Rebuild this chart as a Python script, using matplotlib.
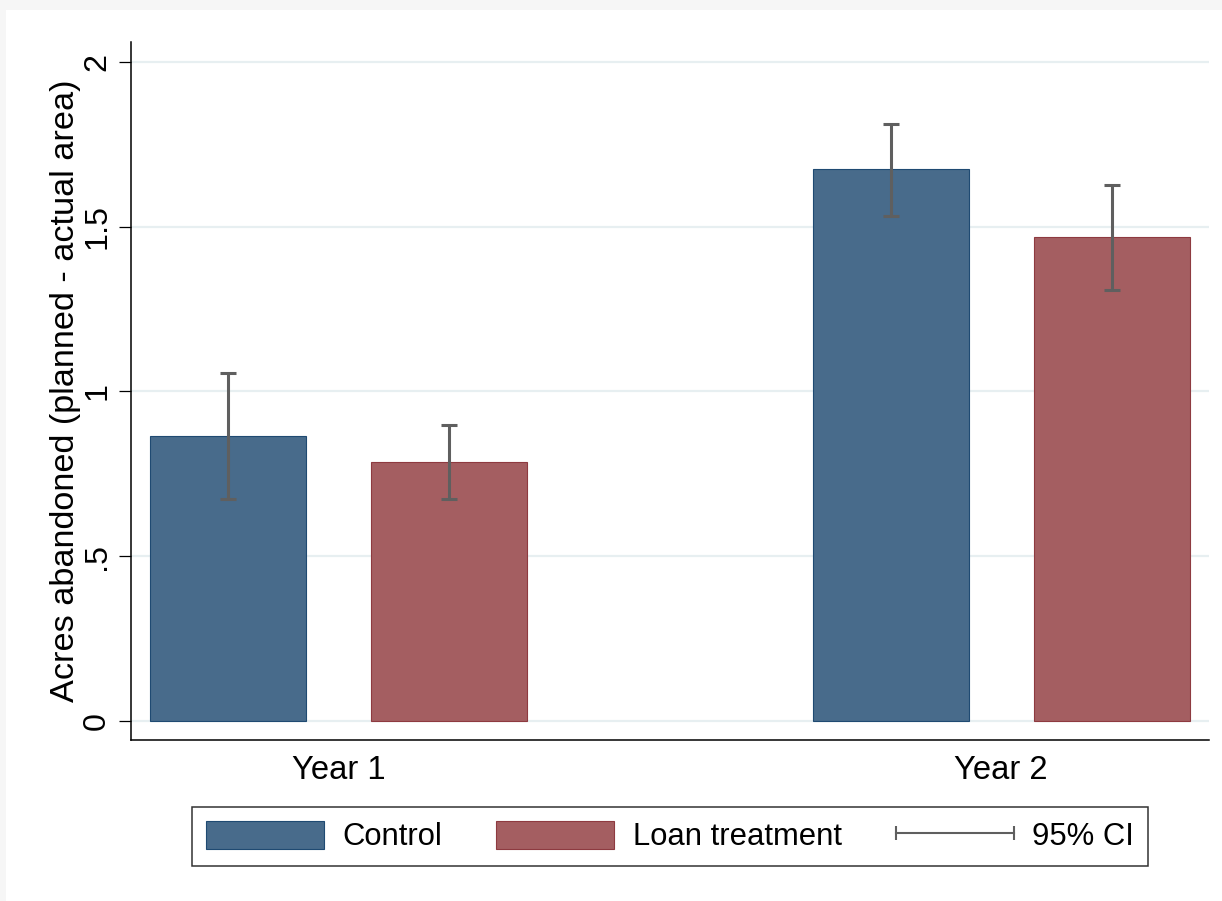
import numpy as np
import matplotlib.pyplot as plt
from matplotlib.patches import Patch, Rectangle
from matplotlib.lines import Line2D
from matplotlib.legend_handler import HandlerLine2D

# -------------------------------
# DATA
# -------------------------------
years = ["Year 1", "Year 2"]
groups = ["Control", "Loan treatment"]

control_mean = [0.865, 1.675]
control_lo   = [0.674, 1.534]
control_hi   = [1.056, 1.812]

loan_mean = [0.786, 1.469]
loan_lo   = [0.674, 1.308]
loan_hi   = [0.898, 1.627]

yticks = [0, 0.5, 1, 1.5, 2]
ytick_labels = ["0", ".5", "1", "1.5", "2"]

# -------------------------------
# STYLE
# -------------------------------
plt.rcParams['font.family'] = ['Liberation Sans', 'DejaVu Sans']

NAVY_FILL, NAVY_EDGE = "#486b8b", "#1f4a72"
MAROON_FILL, MAROON_EDGE = "#a45e61", "#8e3a40"
CI_COLOR = "#5f5f5f"
GRID_COLOR = "#e7eff1"

W, H = 1222, 901
fig = plt.figure(figsize=(W / 100, H / 100), dpi=100, facecolor="white")

# light frame strip along top and left edge
fig.patches.append(Rectangle((0, 1 - 10 / H), 1, 10 / H, transform=fig.transFigure,
                             facecolor="#f6f6f6", edgecolor="none", zorder=0))
fig.patches.append(Rectangle((0, 0), 6 / W, 1, transform=fig.transFigure,
                             facecolor="#f6f6f6", edgecolor="none", zorder=0))

ax = fig.add_axes([131 / W, 1 - 740 / H, (1209 - 131) / W, (740 - 42) / H])
ax.set_facecolor("white")

x = np.arange(len(years))
off = 1 / 6
bw = 0.2354

ax.bar(x - off, control_mean, width=bw, color=NAVY_FILL, edgecolor=NAVY_EDGE,
       linewidth=0.8, zorder=2)
ax.bar(x + off, loan_mean, width=bw, color=MAROON_FILL, edgecolor=MAROON_EDGE,
       linewidth=0.8, zorder=2)

err_kw = dict(fmt='none', ecolor=CI_COLOR, elinewidth=2.2, capsize=6.1,
              capthick=2.2, zorder=3)
cm = np.array(control_mean)
lm = np.array(loan_mean)
ax.errorbar(x - off, cm, yerr=[cm - np.array(control_lo), np.array(control_hi) - cm], **err_kw)
ax.errorbar(x + off, lm, yerr=[lm - np.array(loan_lo), np.array(loan_hi) - lm], **err_kw)

# axes
ax.set_xlim(-0.313, 1.3135)
ax.set_ylim(-0.0577, 2.0607)
ax.set_yticks(yticks)
ax.set_yticklabels(ytick_labels, rotation=90, va="center")
ax.set_xticks(x)
ax.set_xticklabels(years)
ax.tick_params(axis='x', length=0, pad=11, labelsize=23.6)
ax.tick_params(axis='y', length=8.6, width=0.9, pad=5, labelsize=23.2)
ax.yaxis.grid(True, color=GRID_COLOR, linewidth=1.6, zorder=0)
ax.set_axisbelow(True)

for s in ["top", "right"]:
    ax.spines[s].set_visible(False)
for s in ["left", "bottom"]:
    ax.spines[s].set_linewidth(1.1)

ax.set_ylabel("Acres abandoned (planned - actual area)", fontsize=24.7, labelpad=0.5)

# legend
handles = [
    Patch(facecolor=NAVY_FILL, edgecolor=NAVY_EDGE, linewidth=0.8),
    Patch(facecolor=MAROON_FILL, edgecolor=MAROON_EDGE, linewidth=0.8),
    Line2D([0, 1], [0, 0], color=CI_COLOR, linewidth=1.5, marker='|',
           markersize=10, markeredgewidth=1.5),
]
labels = groups + ["95% CI"]
leg = fig.legend(handles, labels, loc="center", bbox_to_anchor=(670 / W, 1 - 836.5 / H),
                 ncol=3, fontsize=22.3, frameon=True, fancybox=False,
                 edgecolor="black", handlelength=3.8, handleheight=1.05,
                 handletextpad=0.6, columnspacing=1.75, borderpad=0.45,
                 handler_map={handles[2]: HandlerLine2D(numpoints=2, marker_pad=0)})
leg.get_frame().set_linewidth(1.1)

fig.savefig("out.png", dpi=100, facecolor=fig.get_facecolor())
